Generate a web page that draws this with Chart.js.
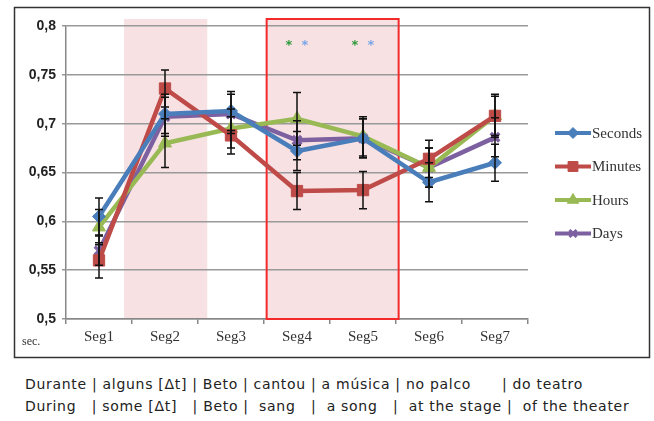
<!DOCTYPE html>
<html>
<head>
<meta charset="utf-8">
<script src="https://cdn.jsdelivr.net/npm/chart.js@4/dist/chart.umd.min.js"></script>
<style>
  body { margin: 0; background: #fff; width: 654px; height: 421px; overflow: hidden; }
  #wrap { position: absolute; left: 0; top: 0; width: 654px; height: 362px; }
  .cap { position: absolute; left: 25px; font: 14px "DejaVu Sans", sans-serif; letter-spacing: 0.7px; color: #222; white-space: pre; }
</style>
</head>
<body>
<div id="wrap"><canvas id="c" width="654" height="362"></canvas></div>
<div class="cap" style="top:376px">Durante | alguns [Δt] | Beto | cantou | a música | no palco      | do teatro</div>
<div class="cap" style="top:398px">During   | some [Δt]   | Beto |  sang   |  a song   |  at the stage |  of the theater</div>
<script>
const segments = ['Seg1', 'Seg2', 'Seg3', 'Seg4', 'Seg5', 'Seg6', 'Seg7'];
const yTickLabels = ['0,5', '0,55', '0,6', '0,65', '0,7', '0,75', '0,8'];

const seconds = [0.605, 0.710, 0.713, 0.672, 0.685, 0.640, 0.660];
const minutes = [0.560, 0.736, 0.688, 0.631, 0.632, 0.664, 0.708];
const hours   = [0.594, 0.680, 0.695, 0.705, 0.687, 0.655, 0.708];
const days    = [0.570, 0.707, 0.710, 0.683, 0.685, 0.655, 0.686];

const secondsErr = [0.019, 0.020, 0.020, 0.020, 0.020, 0.020, 0.019];
const minutesErr = [0.018, 0.019, 0.019, 0.019, 0.019, 0.019, 0.020];
const hoursErr   = [0.018, 0.025, 0.020, 0.027, 0.020, 0.020, 0.022];
const daysErr    = [0.015, 0.020, 0.020, 0.020, 0.020, 0.020, 0.020];

// significance marks above Seg4 and Seg5
const starSegments = [3, 4];

const series = [
  { label: 'Seconds', data: seconds, err: secondsErr, color: '#4a7ebb', style: 'rectRot', r: 6.5 },
  { label: 'Minutes', data: minutes, err: minutesErr, color: '#be4b48', style: 'rect', r: 8 },
  { label: 'Hours', data: hours, err: hoursErr, color: '#98b954', style: 'triangle', r: 7.5 },
  { label: 'Days', data: days, err: daysErr, color: '#7d60a0', style: 'crossRot', r: 6 },
];

const overlay = {
  id: 'overlay',
  beforeDraw(chart) {
    const { ctx, scales: { x, y } } = chart;
    const w = x.getPixelForValue(1) - x.getPixelForValue(0);
    const top = y.getPixelForValue(0.8) - 7;
    const bot = y.getPixelForValue(0.5);
    ctx.save();
    // outer frame
    ctx.strokeStyle = '#333';
    ctx.lineWidth = 1.5;
    ctx.strokeRect(14.5, 7.5, 635, 350);
    ctx.fillStyle = '#f7e1e3';
    const b1 = x.getPixelForValue(1) - 0.62 * w;
    const b2 = x.getPixelForValue(1) + 0.64 * w;
    ctx.fillRect(b1, top, b2 - b1, bot - top);
    const r1 = x.getPixelForValue(3) - 0.46 * w;
    const r2 = x.getPixelForValue(4) + 0.54 * w;
    ctx.fillRect(r1, top, r2 - r1, bot - top);
    ctx.restore();
  },
  beforeDatasetsDraw(chart) {
    const { ctx, scales: { x, y } } = chart;
    const w = x.getPixelForValue(1) - x.getPixelForValue(0);
    const top = y.getPixelForValue(0.8) - 7;
    const bot = y.getPixelForValue(0.5);
    const r1 = x.getPixelForValue(3) - 0.46 * w;
    const r2 = x.getPixelForValue(4) + 0.54 * w;
    ctx.save();
    ctx.strokeStyle = '#f42a2a';
    ctx.lineWidth = 2;
    ctx.strokeRect(r1, top, r2 - r1, bot - top);
    ctx.restore();
  },
  afterDatasetsDraw(chart) {
    const { ctx, scales: { x, y } } = chart;
    ctx.save();
    ctx.strokeStyle = '#111';
    ctx.lineWidth = 1.5;
    series.forEach(s => {
      s.data.forEach((v, i) => {
        const px = x.getPixelForValue(i);
        const hi = y.getPixelForValue(v + s.err[i]);
        const lo = y.getPixelForValue(v - s.err[i]);
        ctx.beginPath();
        ctx.moveTo(px, hi); ctx.lineTo(px, lo);
        ctx.moveTo(px - 4, hi); ctx.lineTo(px + 4, hi);
        ctx.moveTo(px - 4, lo); ctx.lineTo(px + 4, lo);
        ctx.stroke();
      });
    });
    // asterisks
    ctx.font = 'bold 13px "DejaVu Sans"';
    ctx.textAlign = 'center';
    ctx.textBaseline = 'middle';
    const sy = y.getPixelForValue(0.8) + 20;
    starSegments.forEach(i => {
      const px = x.getPixelForValue(i);
      ctx.fillStyle = '#2e9a3a';
      ctx.fillText('*', px - 8, sy);
      ctx.fillStyle = '#79a6e6';
      ctx.fillText('*', px + 8, sy);
    });
    // legend
    series.forEach((s, k) => {
      const ly = 133 + k * 33.5;
      ctx.strokeStyle = s.color;
      ctx.fillStyle = s.color;
      ctx.lineWidth = 4;
      ctx.beginPath();
      ctx.moveTo(555, ly); ctx.lineTo(591, ly);
      ctx.stroke();
      ctx.lineWidth = s.style === 'crossRot' ? 3 : 1;
      Chart.helpers.drawPoint(ctx, { pointStyle: s.style, radius: s.r - 1, rotation: 0, borderWidth: ctx.lineWidth }, 573, ly);
      ctx.fillStyle = '#333';
      ctx.font = '15px "Liberation Serif"';
      ctx.textAlign = 'left';
      ctx.fillText(s.label, 592, ly + 1);
    });
    // axis unit
    ctx.font = '12px "Liberation Serif"';
    ctx.fillStyle = '#333';
    ctx.fillText('sec.', 22, 342);
    ctx.restore();
  }
};

new Chart(document.getElementById('c'), {
  type: 'line',
  data: {
    labels: segments,
    datasets: series.map(s => ({
      label: s.label,
      data: s.data,
      borderColor: s.color,
      backgroundColor: s.color,
      borderWidth: 4.5,
      pointStyle: s.style,
      pointRadius: s.r,
      pointBorderWidth: s.style === 'crossRot' ? 3.5 : 1,
      pointBorderColor: s.color,
      tension: 0,
    })),
  },
  options: {
    responsive: false,
    animation: false,
    layout: { padding: { left: 0, top: 26, right: 126, bottom: 13 } },
    plugins: { legend: { display: false }, tooltip: { enabled: false } },
    scales: {
      x: {
        offset: true,
        grid: { offset: true, drawOnChartArea: false, drawTicks: true, tickLength: 5, color: '#888', lineWidth: 1.5 },
        border: { color: '#888', width: 1.5 },
        ticks: { font: { family: 'Liberation Serif', size: 15 }, color: '#333', padding: 4 },
        afterFit: s => { s.height = 30; },
      },
      y: {
        min: 0.5,
        max: 0.8,
        ticks: {
          stepSize: 0.05,
          callback: (v, i) => yTickLabels[i],
          font: { family: 'Liberation Sans', size: 14, weight: 'bold' },
          color: '#222',
          padding: 6,
        },
        grid: { color: '#999', lineWidth: 1.5, tickLength: 4 },
        border: { color: '#888', width: 1.5 },
        afterFit: s => { s.width = 66; },
      },
    },
  },
  plugins: [overlay],
});
</script>
</body>
</html>
